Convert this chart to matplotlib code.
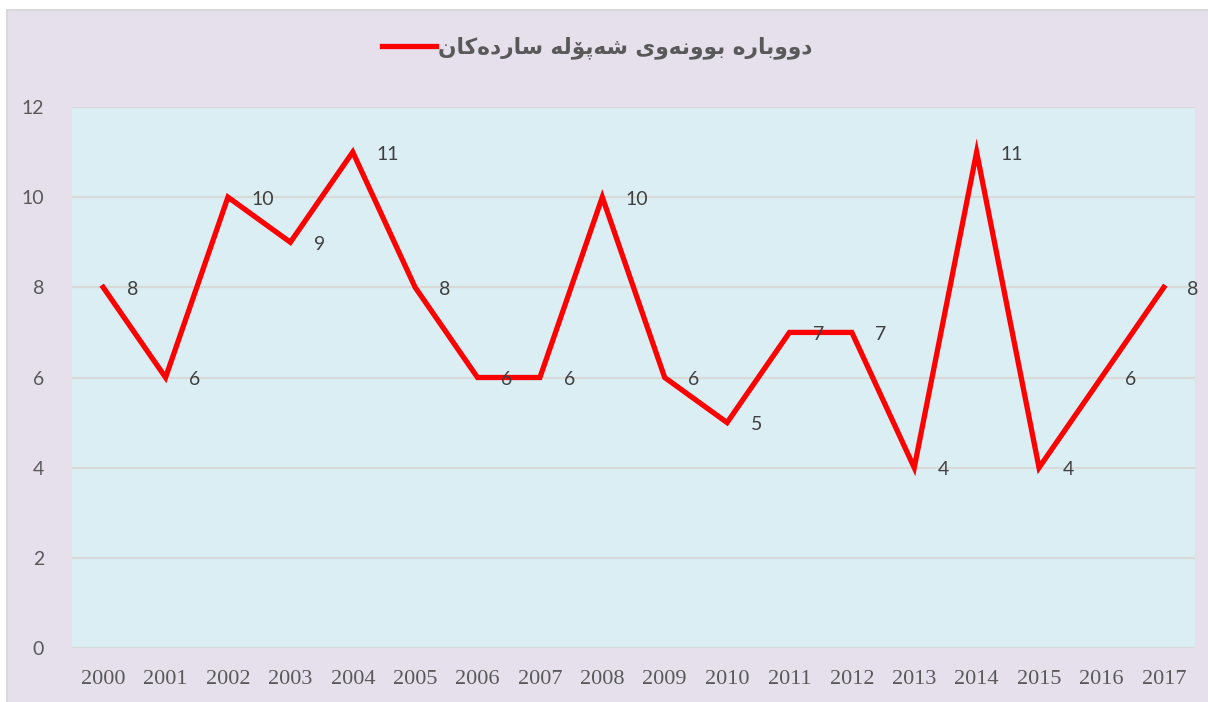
import matplotlib
matplotlib.use("Agg")
import matplotlib.pyplot as plt
from matplotlib.patches import Rectangle

years = ["2000", "2001", "2002", "2003", "2004", "2005", "2006", "2007", "2008",
         "2009", "2010", "2011", "2012", "2013", "2014", "2015", "2016", "2017"]
values = [8, 6, 10, 9, 11, 8, 6, 6, 10, 6, 5, 7, 7, 4, 11, 4, 6, 8]
yticks = [0, 2, 4, 6, 8, 10, 12]

# Kurdish series name, pre-shaped (presentation forms) in visual left-to-right order
series_name = ("\uFEE5\uFE8E\uFEDB\uFEE9\uFEA9\uFEAD\uFE8E\uFEB3 "
               "\uFEEA\uFEDF\uFBDA\uFB58\uFEEA\uFEB7 "
               "\uFEEF\uFEED\uFEEA\uFEE7\uFEED\uFEEE\uFE91 "
               "\uFEE9\uFEAD\uFE8E\uFE91\uFEED\uFEED\uFEA9")

W, H = 1208, 702
fig = plt.figure(figsize=(W / 100, H / 100), dpi=100, facecolor="white")

# chart area background
bg = Rectangle((7 / W, -0.01), 1.02 - 7 / W, (H - 10) / H + 0.01,
               transform=fig.transFigure, facecolor="#E5E0EC",
               edgecolor="#D9D9D9", linewidth=1.5, zorder=-10)
fig.patches.append(bg)

ax = fig.add_axes([72 / W, 1 - 648 / H, (1195 - 72) / W, (648 - 107) / H])
ax.set_zorder(5)
ax.set_facecolor("#DAEEF3")

x = list(range(len(years)))
line, = ax.plot(x, values, color="#FF0000", linewidth=3.8,
                solid_joinstyle="miter", label=series_name, zorder=3)

for xi, v in zip(x, values):
    ax.annotate(str(v), (xi, v), xytext=(17, -1.5), textcoords="offset points",
                ha="left", va="center", fontsize=14, color="#404040",
                family="Lato", zorder=4)

ax.set_xlim(-0.5, len(years) - 0.5)
ax.set_ylim(0, 12)
ax.set_yticks(yticks)
ax.set_yticklabels([str(t) for t in yticks], fontsize=14, color="#595959", family="Lato")
ax.set_xticks(x)
ax.set_xticklabels(years, fontsize=16, color="#595959", family="Liberation Serif")
ax.tick_params(axis="y", length=0, pad=20)
ax.tick_params(axis="x", length=0, pad=16)
ax.grid(axis="y", color="#D9D9D9", linewidth=1.5, zorder=1)
ax.set_axisbelow(True)
for s in ax.spines.values():
    s.set_visible(False)

leg = fig.legend(handles=[line], loc="center", bbox_to_anchor=(597 / W, 1 - 48 / H),
                 frameon=False, handlelength=2.5, handletextpad=0.1,
                 prop={"family": "DejaVu Sans", "weight": "bold", "size": 15.6})
leg.set_zorder(6)
for t in leg.get_texts():
    t.set_color("#595959")

fig.savefig("out.png", dpi=100, facecolor="white")
